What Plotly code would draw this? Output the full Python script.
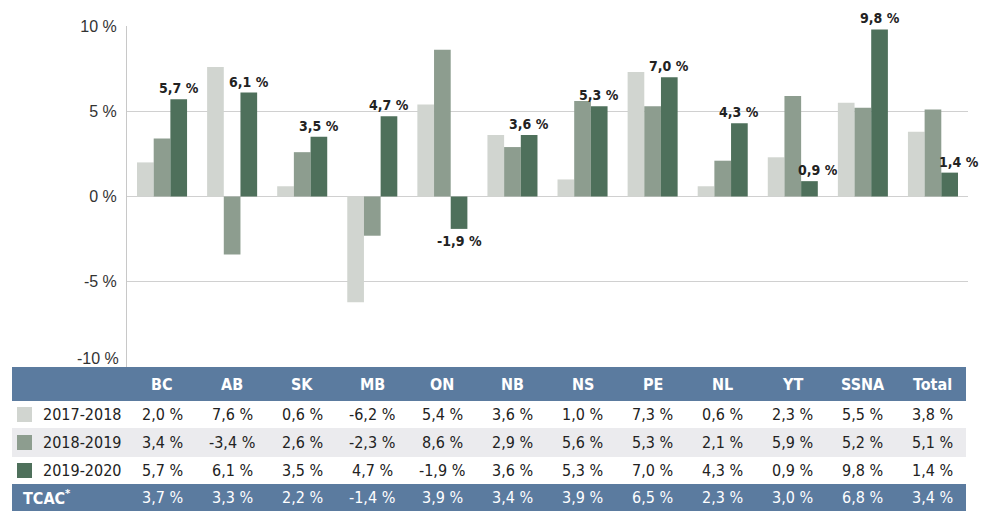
import plotly.graph_objects as go

categories = ["BC", "AB", "SK", "MB", "ON", "NB", "NS", "PE", "NL", "YT", "SSNA", "Total"]
series_names = ["2017-2018", "2018-2019", "2019-2020"]
s1718 = [2.0, 7.6, 0.6, -6.2, 5.4, 3.6, 1.0, 7.3, 0.6, 2.3, 5.5, 3.8]
s1819 = [3.4, -3.4, 2.6, -2.3, 8.6, 2.9, 5.6, 5.3, 2.1, 5.9, 5.2, 5.1]
s1920 = [5.7, 6.1, 3.5, 4.7, -1.9, 3.6, 5.3, 7.0, 4.3, 0.9, 9.8, 1.4]
tcac = [3.7, 3.3, 2.2, -1.4, 3.9, 3.4, 3.9, 6.5, 2.3, 3.0, 6.8, 3.4]
tick_vals = [10, 5, 0, -5, -10]
tick_text = ["10 %", "5 %", "0 %", "-5 %", "-10 %"]

colors = ["#d1d5d0", "#8d9d8f", "#4e705b"]
header_blue = "#5b7b9f"
stripe = "#ebebee"

# the page body adds an 8px offset; the figure is sized to fit the 1000x518 view
OFF = 8
W, H = 1000 - OFF, 518 - OFF


def fmt(v):
    return f"{v:.1f}".replace(".", ",") + " %"


def px(x):
    return (x - OFF) / W


def py(y):
    return 1 - (y - OFF) / H


COND = "DejaVu Sans Condensed, DejaVu Sans, sans-serif"
TICKFONT = dict(family="Liberation Sans, Arial, sans-serif", size=16, color="#333333")

fig = go.Figure()
all_series = [s1718, s1819, s1920]
for i, (name, vals) in enumerate(zip(series_names, all_series)):
    fig.add_trace(go.Bar(x=categories, y=vals, name=name, marker_color=colors[i],
                         marker_line_width=0, showlegend=False))

shapes = []
annotations = []

# value labels above/below the 2019-2020 bars (dark bar sits one bar-width right of centre)
label_extra_shift = {"YT": 9, "Total": 9}
for c, v in zip(categories, s1920):
    pos = v >= 0
    annotations.append(dict(x=c, xref="x", y=v, yref="y",
                            xanchor="center", yanchor="bottom" if pos else "top",
                            xshift=16.7 + label_extra_shift.get(c, 0), yshift=1 if pos else -2,
                            text=fmt(v), showarrow=False,
                            font=dict(family=COND, size=14, color="#222222", weight="bold")))

# -10 % label sits just above the table
annotations.append(dict(x=px(121), xref="paper", xanchor="right", y=tick_vals[-1], yref="y",
                        yanchor="middle", yshift=9, text=tick_text[-1], showarrow=False,
                        font=TICKFONT))

bands = [
    (367, 401, header_blue),
    (401, 428, "white"),
    (428, 457, stripe),
    (457, 484, "white"),
    (484, 511, header_blue),
]
for y0, y1, c in bands:
    shapes.append(dict(type="rect", xref="paper", yref="paper", x0=px(12), x1=px(966),
                       y0=py(y1), y1=py(y0), fillcolor=c, line_width=0, layer="below"))

centers = [384.5, 414.5, 442.5, 470.5, 497.5]

for c in categories:
    annotations.append(dict(x=c, xref="x", y=py(centers[0]), yref="paper", yanchor="middle",
                            xanchor="center", text=c, showarrow=False,
                            font=dict(family=COND, size=16, color="white", weight="bold")))

for r, (name, vals) in enumerate(zip(series_names, all_series)):
    yc = centers[r + 1]
    shapes.append(dict(type="rect", xref="paper", yref="paper", x0=px(17), x1=px(32),
                       y0=py(yc + 7.5), y1=py(yc - 7.5), fillcolor=colors[r], line_width=0))
    annotations.append(dict(x=px(41), xref="paper", xanchor="left", y=py(yc), yref="paper",
                            yanchor="middle", text=name, showarrow=False,
                            font=dict(family=COND, size=16, color="#222222")))
    for c, v in zip(categories, vals):
        annotations.append(dict(x=c, xref="x", y=py(yc), yref="paper", yanchor="middle",
                                xanchor="center", text=fmt(v), showarrow=False,
                                font=dict(family=COND, size=16, color="#222222")))

annotations.append(dict(x=px(21), xref="paper", xanchor="left", y=py(centers[4]), yref="paper",
                        yanchor="middle", text="TCAC<sup>*</sup>", showarrow=False,
                        font=dict(family=COND, size=16, color="white", weight="bold")))
for c, v in zip(categories, tcac):
    annotations.append(dict(x=c, xref="x", y=py(centers[4]), yref="paper", yanchor="middle",
                            xanchor="center", text=fmt(v), showarrow=False,
                            font=dict(family=COND, size=16, color="white")))

fig.update_layout(
    width=W, height=H, autosize=False,
    margin=dict(l=0, r=0, t=0, b=0, pad=0, autoexpand=False),
    paper_bgcolor="white", plot_bgcolor="white",
    barmode="group", bargap=0.286, bargroupgap=0,
    xaxis=dict(domain=[px(127), px(968)], range=[-0.5, len(categories) - 0.5],
               showticklabels=False, showgrid=False,
               zeroline=False, showline=False, ticks="", automargin=False),
    yaxis=dict(domain=[py(367), py(26)], range=[-10, 10],
               tickvals=tick_vals[:-1], ticktext=tick_text[:-1],
               showgrid=True, gridcolor="#d0d0d0", gridwidth=1,
               zeroline=True, zerolinecolor="#d0d0d0", zerolinewidth=1,
               showline=True, linecolor="#c8c8c8", linewidth=1, ticks="", automargin=False,
               tickfont=TICKFONT, ticklabelstandoff=6),
    shapes=shapes,
    annotations=annotations,
)

fig.write_html("out.html")
